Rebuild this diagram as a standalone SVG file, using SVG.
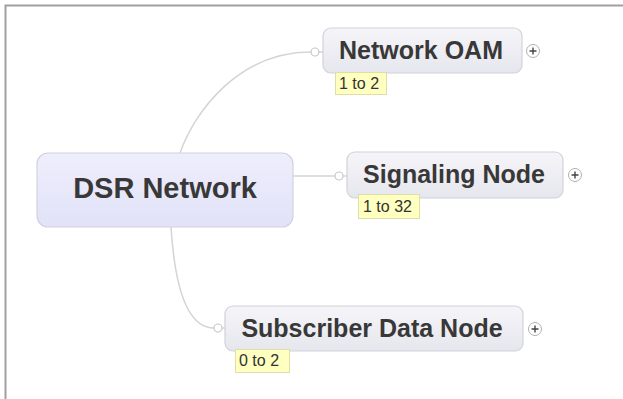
<svg xmlns="http://www.w3.org/2000/svg" width="623" height="399" viewBox="0 0 623 399">
<defs>
<linearGradient id="gc" x1="0" y1="0" x2="0" y2="1"><stop offset="0" stop-color="#eeeefd"/><stop offset="1" stop-color="#e2e2f8"/></linearGradient>
<linearGradient id="gn" x1="0" y1="0" x2="0" y2="1"><stop offset="0" stop-color="#f5f5f9"/><stop offset="1" stop-color="#e6e6ee"/></linearGradient>
</defs>
<style>
.box{fill:url(#gn);stroke:#d2d2da;stroke-width:1.2}
.central{fill:url(#gc);stroke:#d2d2de;stroke-width:1.2}
.t{font-family:"Liberation Sans",Arial,sans-serif;font-weight:bold;fill:#383838;text-anchor:middle}
.lbl{fill:#ffffc0;stroke:#dedea8;stroke-width:1}
.lt{font-family:"Liberation Sans",Arial,sans-serif;font-size:16px;fill:#333}
.conn{fill:none;stroke:#d4d4d4;stroke-width:1.5}
.dot{fill:#fff;stroke:#c8c8c8;stroke-width:1.2}
.plus{fill:#fff;stroke:#b0b0b0;stroke-width:1}
.pl{stroke:#444;stroke-width:1.4}
</style>
<rect width="623" height="399" fill="#fff"/>
<path d="M5.5,399V5.5H623" fill="none" stroke="#a0a0a0" stroke-width="2"/>
<g id="connectors">
<path class="conn" d="M180,153 C195,110 240,52 311,52"/>
<path class="conn" d="M319,52 H323"/>
<circle class="dot" cx="315" cy="52" r="4"/>
<path class="conn" d="M293,176 H335"/>
<path class="conn" d="M343,176 H347"/>
<circle class="dot" cx="339" cy="176" r="4"/>
<path class="conn" d="M171,227 C175,290 188,328 214,328"/>
<path class="conn" d="M222,328 H225"/>
<circle class="dot" cx="218" cy="328" r="4"/>
</g>
<g id="dsr-network">
<rect class="central" x="37" y="153" width="256" height="74" rx="11"/>
<text class="t" x="165" y="198" font-size="29">DSR Network</text>
</g>
<g id="network-oam">
<rect class="box" x="323" y="28" width="199" height="45" rx="8"/>
<text class="t" x="421" y="59" font-size="25">Network OAM</text>
<circle class="plus" cx="533" cy="51" r="6.5"/>
<path class="pl" d="M529.5,51H536.5M533,47.5V54.5"/>
<rect class="lbl" x="335.5" y="72.5" width="51" height="22"/>
<text class="lt" x="339" y="89">1 to 2</text>
</g>
<g id="signaling-node">
<rect class="box" x="347" y="152" width="216" height="46" rx="8"/>
<text class="t" x="454" y="183" font-size="25">Signaling Node</text>
<circle class="plus" cx="575" cy="175" r="6.5"/>
<path class="pl" d="M571.5,175H578.5M575,171.5V178.5"/>
<rect class="lbl" x="358.5" y="194.5" width="61" height="24"/>
<text class="lt" x="363" y="212">1 to 32</text>
</g>
<g id="subscriber-data-node">
<rect class="box" x="225" y="306" width="298" height="45" rx="8"/>
<text class="t" x="372" y="337" font-size="25">Subscriber Data Node</text>
<circle class="plus" cx="535" cy="329" r="6.5"/>
<path class="pl" d="M531.5,329H538.5M535,325.5V332.5"/>
<rect class="lbl" x="235.5" y="349.5" width="54" height="23"/>
<text class="lt" x="239" y="366">0 to 2</text>
</g>
</svg>
